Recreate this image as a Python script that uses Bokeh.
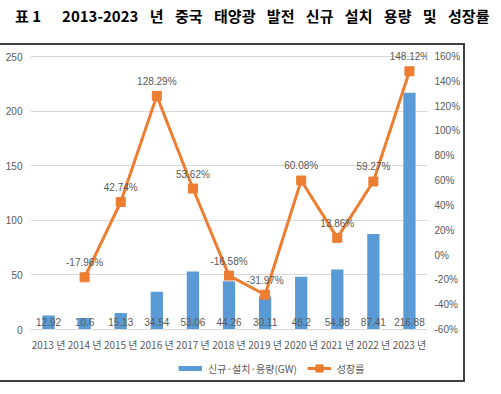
from bokeh.plotting import figure
from bokeh.models import (ColumnDataSource, Range1d, LinearAxis, FixedTicker, PrintfTickFormatter,
                          Legend, LegendItem, Div)
from bokeh.layouts import column
from bokeh.core.properties import value
from bokeh.embed import file_html
from bokeh.resources import INLINE

# ---- data ----
years = ["2013 년", "2014 년", "2015 년", "2016 년", "2017 년", "2018 년",
         "2019 년", "2020 년", "2021 년", "2022 년", "2023 년"]
capacity = [12.92, 10.6, 15.13, 34.54, 53.06, 44.26, 30.11, 48.2, 54.88, 87.41, 216.88]
growth_years = years[1:]
growth = [-17.96, 42.74, 128.29, 53.62, -16.58, -31.97, 60.08, 13.86, 59.27, 148.12]
left_ticks = [0, 50, 100, 150, 200, 250]
right_ticks = [-60, -40, -20, 0, 20, 40, 60, 80, 100, 120, 140, 160]

title_head = "표 1"
title_rest = "2013-2023 년 중국 태양광 발전 신규 설치 용량 및 성장률"
bar_name = "신규·설치·용량(GW)"
line_name = "성장률"

BLUE = "#5B9BD5"
ORANGE = "#ED7D31"
GRAY = "#595959"
BORDER_COLOR = "#404040"
LABEL_FONT = "Liberation Sans"
KR_FONT = "Noto Sans CJK KR"

W = 463          # chart width
H_PLOT = 310     # main figure height
H_LEG = 25       # legend strip height

# headroom above the top tick so that labels above the frame are not clipped
HEAD_PX = 9
PLOT_PX = 273
left_top = left_ticks[-1] + HEAD_PX * (left_ticks[-1] - left_ticks[0]) / PLOT_PX
right_top = right_ticks[-1] + HEAD_PX * (right_ticks[-1] - right_ticks[0]) / PLOT_PX

bar_src = ColumnDataSource(dict(x=years, top=capacity, lab=[str(v) for v in capacity]))
line_src = ColumnDataSource(dict(x=growth_years, y=growth, lab=[f"{v:.2f}%" for v in growth]))

p = figure(x_range=years, y_range=Range1d(left_ticks[0], left_top),
           width=W, height=H_PLOT, output_backend="svg", toolbar_location=None,
           min_border_left=30, min_border_right=33, min_border_top=2, min_border_bottom=26)
p.extra_y_ranges = {"pct": Range1d(right_ticks[0], right_top)}

p.outline_line_color = None
p.background_fill_color = "white"
p.border_fill_color = "white"

# bars
bars = p.vbar(x="x", top="top", width=0.34, source=bar_src, fill_color=BLUE, line_color=None)
p.text(x="x", y=0, text="lab", source=bar_src, text_align="center", text_baseline="bottom",
       y_offset=-4, text_font=value(LABEL_FONT), text_font_size="10px", text_color=GRAY)

# line
ln = p.line(x="x", y="y", source=line_src, y_range_name="pct", line_color=ORANGE, line_width=3)
mk = p.scatter(x="x", y="y", source=line_src, y_range_name="pct", marker="square", size=9,
               fill_color=ORANGE, line_color=ORANGE)
p.text(x="x", y="y", text="lab", source=line_src, y_range_name="pct", text_align="center",
       text_baseline="bottom", y_offset=-9, text_font=value(LABEL_FONT), text_font_size="10px",
       text_color=GRAY)

# axes
p.yaxis.ticker = FixedTicker(ticks=left_ticks)
ax = p.yaxis[0]
ax.axis_line_color = None
ax.major_tick_line_color = None
ax.minor_tick_line_color = None
ax.major_tick_out = 0
ax.major_tick_in = 0
ax.major_label_text_font = LABEL_FONT
ax.major_label_text_font_size = "10px"
ax.major_label_text_color = GRAY
ax.major_label_standoff = 8

rax = LinearAxis(y_range_name="pct", ticker=FixedTicker(ticks=right_ticks),
                 formatter=PrintfTickFormatter(format="%d%%"))
rax.axis_line_color = None
rax.major_tick_line_color = None
rax.minor_tick_line_color = None
rax.major_tick_out = 0
rax.major_tick_in = 0
rax.major_label_text_font = LABEL_FONT
rax.major_label_text_font_size = "10px"
rax.major_label_text_color = GRAY
rax.major_label_standoff = 7
p.add_layout(rax, "right")

p.xaxis.axis_line_color = "#d9d9d9"
p.xaxis.major_tick_line_color = None
p.xaxis.minor_tick_line_color = None
p.xaxis.major_tick_out = 0
p.xaxis.major_tick_in = 0
p.xaxis.major_label_text_font = KR_FONT
p.xaxis.major_label_text_font_size = "10px"
p.xaxis.major_label_text_color = GRAY
p.xaxis.major_label_standoff = 7

p.xgrid.grid_line_color = None
p.ygrid.grid_line_color = "#d9d9d9"
p.ygrid.ticker = FixedTicker(ticks=left_ticks)

# ---- legend strip (separate small figure, no axes) ----
nan = float("nan")
p2 = figure(width=W, height=H_LEG, x_range=Range1d(0, 1), y_range=Range1d(0, 1),
            x_axis_type=None, y_axis_type=None,
            output_backend="svg", toolbar_location=None,
            min_border_left=0, min_border_right=0, min_border_top=0, min_border_bottom=0)
p2.grid.grid_line_color = None
p2.outline_line_color = None
p2.border_fill_color = "white"
leg_bar = p2.line(x=[nan, nan], y=[nan, nan], line_color=BLUE, line_width=5)
leg_ln = p2.line(x=[nan, nan], y=[nan, nan], line_color=ORANGE, line_width=3)
leg_mk = p2.scatter(x=[nan], y=[nan], marker="square", fill_color=ORANGE, line_color=ORANGE)

legend = Legend(items=[LegendItem(label=bar_name, renderers=[leg_bar]),
                       LegendItem(label=line_name, renderers=[leg_ln, leg_mk])],
                orientation="horizontal", location=(148, 3), border_line_color=None,
                background_fill_alpha=0, glyph_width=24, glyph_height=18,
                label_text_font=KR_FONT, label_text_font_size="10px", label_text_color=GRAY,
                spacing=10, padding=0, margin=0, label_standoff=6)
p2.add_layout(legend, "center")

title = Div(text=f'<span>{title_head}</span>'
                 f'<span style="margin-left:21px;word-spacing:8px">{title_rest}</span>',
            width=490, height=35,
            styles={"font-family": KR_FONT, "font-weight": "bold", "font-size": "15px",
                    "color": "black", "padding-left": "10px", "white-space": "nowrap"})

# chart box: an outline round the chart block (does not change the layout)
boxed = column(p, p2, spacing=0, styles={"outline": f"2px solid {BORDER_COLOR}"})
layout = column(title, boxed, spacing=0)
open("out.html", "w").write(file_html(layout, INLINE))
